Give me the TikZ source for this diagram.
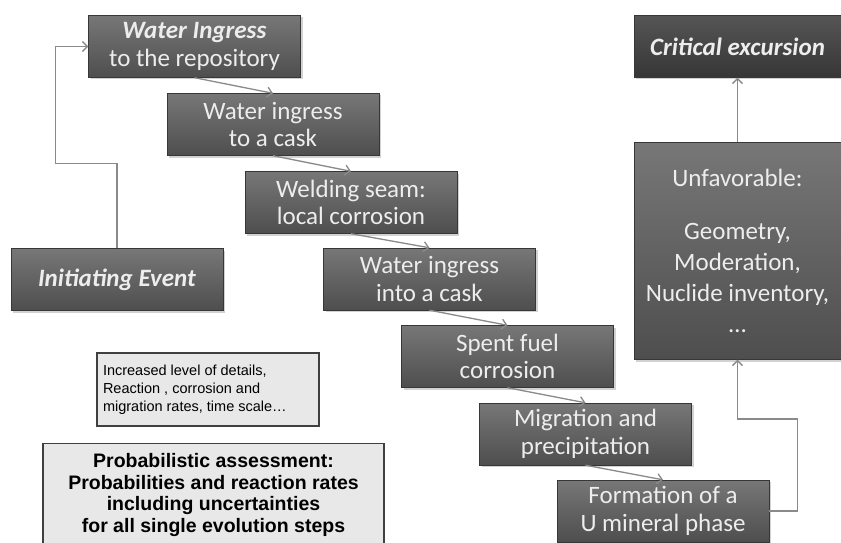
\documentclass[tikz,border=0pt]{standalone}
\usepackage{fontspec}
\setmainfont{Carlito}
\newfontfamily\arialfont{Liberation Sans}
\usetikzlibrary{arrows.meta,shadows}

\definecolor{boxtop}{HTML}{777777}
\definecolor{boxbot}{HTML}{4E4E4E}
\definecolor{darktop}{HTML}{555555}
\definecolor{darkbot}{HTML}{363636}
\definecolor{linegray}{HTML}{8A8A8A}
\definecolor{notefill}{HTML}{E8E8E8}

\begin{document}
\begin{tikzpicture}[x=1pt,y=-1pt,
    stepbox/.style={draw=boxbot!70!black, top color=boxtop, bottom color=boxbot,
      text=white!93!black, minimum width=212pt, minimum height=62pt, inner sep=0pt,
      align=center, font=\fontsize{25}{27.5}\selectfont,
      drop shadow={opacity=0.35, shadow xshift=2pt, shadow yshift=-2pt}},
    darkbox/.style={stepbox, top color=darktop, bottom color=darkbot, minimum width=207pt},
    notebox/.style={draw=black!75, fill=notefill, line width=1.2pt, inner sep=0pt},
    flow/.style={draw=linegray, line width=1.3pt, -{Straight Barb[length=5pt,width=10pt]}}]
  \path[use as bounding box, fill=white] (0,0) rectangle (841,543);

  % evolution steps
  \node[stepbox] (b1) at (194.5,46.5) {\textbf{\textit{Water Ingress}}\\to the repository};
  \node[stepbox] (b2) at (273,124.5) {Water ingress\\to a cask};
  \node[stepbox] (b3) at (351,202.5) {Welding seam:\\local corrosion};
  \node[stepbox] (b4) at (429.5,279) {Water ingress\\into a cask};
  \node[stepbox] (b5) at (507.5,356.5) {Spent fuel\\corrosion};
  \node[stepbox] (b6) at (585.5,434) {Migration and\\precipitation};
  \node[stepbox] (b7) at (663,511) {Formation of a\\U mineral phase};

  \node[stepbox] (init) at (117,279.5) {\textbf{\textit{Initiating Event}}};

  \node[darkbox] (crit) at (737.5,46.5) {\textbf{\textit{Critical excursion}}};
  \node[stepbox, minimum width=207pt, minimum height=217pt,
    font=\fontsize{25}{31}\selectfont] (unfav) at (737.5,251)
    {Unfavorable:\\[22pt]Geometry,\\Moderation,\\Nuclide inventory,\\\ldots};

  % notes
  \node[notebox, minimum width=222pt, minimum height=73pt] (details) at (208,389.5)
    {\parbox{210pt}{\arialfont\fontsize{14.5}{18}\selectfont
      Increased level of details,\\Reaction , corrosion and\\migration rates, time scale\ldots}};
  \node[notebox, minimum width=341pt, anchor=north, align=center,
    font=\arialfont\bfseries\fontsize{19.5}{21.5}\selectfont] (prob) at (213.5,443)
    {\rule{0pt}{24pt}Probabilistic assessment:\\Probabilities and reaction rates\\including uncertainties\\for all single evolution steps\rule[-22pt]{0pt}{22pt}};

  % connectors
  \foreach \a/\b in {b1/b2,b2/b3,b3/b4,b4/b5,b5/b6,b6/b7}
    \draw[flow] (\a.south) -- (\b.north);
  \draw[flow] (init.north) -- ++(0,-85) -| ([xshift=-33pt]b1.west) -- (b1.west);
  \draw[flow] (b7.east) -- ++(28,0) -- ++(0,-92) -| (unfav.south);
  \draw[flow] (unfav.north) -- (crit.south);
\end{tikzpicture}
\end{document}
